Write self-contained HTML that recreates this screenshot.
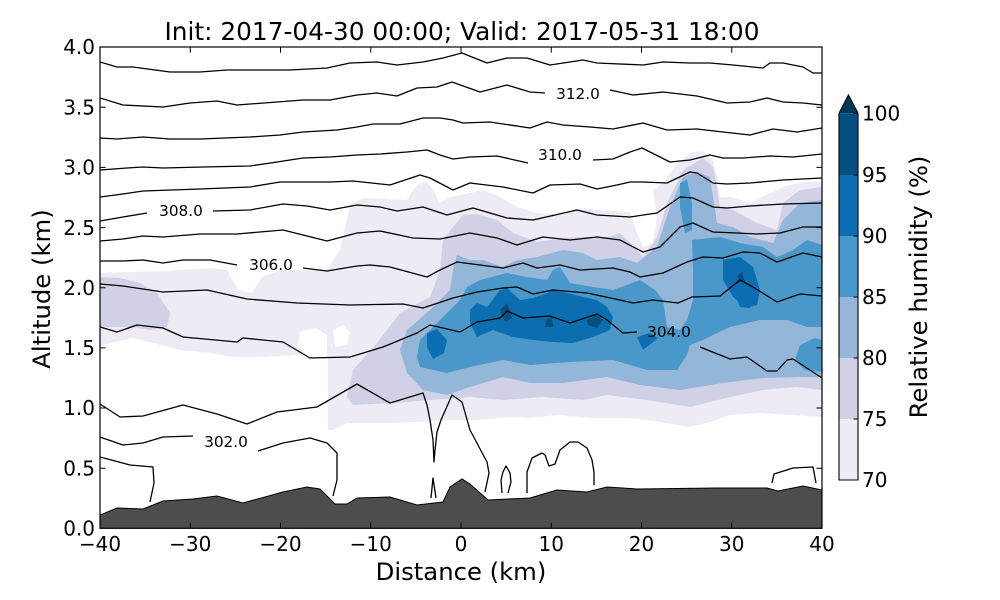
<!DOCTYPE html>
<html><head><meta charset="utf-8"><style>
html,body{margin:0;padding:0;background:#fff;}
svg{display:block;font-family:"DejaVu Sans","Liberation Sans",sans-serif;}
</style></head><body>
<svg width="1000" height="600" viewBox="0 0 1000 600" xmlns="http://www.w3.org/2000/svg">
<defs><clipPath id="c"><rect x="100" y="47" width="722" height="481.3"/></clipPath></defs>
<rect width="1000" height="600" fill="#fff"/>
<g clip-path="url(#c)">
<!-- 70 -->
<polygon fill="#efebf4" points="100,273 167,271 210,268 227,270 238,290 252,293 262,277 280,270 327,270 340,250 350,205 363,198 407,200 413,190 420,183 427,182 433,190 440,203 450,197 470,193 483,190 500,197 517,207 537,213 563,215 583,208 597,210 630,212 637,233 643,247 653,243 657,217 653,190 663,183 677,163 690,153 703,151 713,160 717,177 720,197 733,197 750,203 770,193 783,187 803,182 822,182 822,417 790,415 760,413 730,415 710,422 690,427 660,422 630,418 590,418 557,415 530,418 510,417 480,420 447,420 397,423 347,423 333,430 328,430 328,360 327,357 300,355 260,357 233,357 210,353 180,350 153,343 133,338 110,343 100,347"/>
<polygon fill="#fff" points="300,332 315,328 327,335 327,357 305,355 298,345"/>
<polygon fill="#fff" points="333,330 343,325 350,333 347,345 335,347"/>
<!-- 75 -->
<polygon fill="#d0d1e6" points="100,277 120,278 140,283 157,293 170,313 167,327 150,330 133,327 117,327 100,327"/>
<polygon fill="#d0d1e6" points="443,240 453,227 463,215 477,214 497,220 513,233 537,242 563,238 587,237 607,237 620,233 637,250 643,257 657,237 667,203 683,170 703,158 713,167 717,187 720,207 733,210 757,223 777,230 783,203 800,190 822,187 822,390 797,387 763,390 730,397 690,407 647,400 607,395 583,400 543,397 503,400 470,397 430,400 397,403 353,405 347,397 353,370 377,343 400,313 430,297 440,270"/>
<!-- 80 -->
<polygon fill="#94b6d9" points="450,290 453,270 457,255 470,260 483,260 503,267 517,260 537,257 563,250 583,253 597,260 620,257 637,263 657,247 670,207 683,177 697,172 710,177 713,197 717,223 733,227 750,237 773,243 783,220 800,203 822,200 822,377 803,377 763,378 723,383 680,390 640,385 607,377 563,383 530,383 503,377 470,387 447,395 423,390 407,373 400,350 407,330 430,310"/>
<!-- 85 -->
<polygon fill="#4a98c9" points="460,300 467,287 480,280 507,273 527,277 547,280 553,270 560,267 570,283 593,287 613,290 640,280 655,290 663,300 667,327 680,330 687,320 693,300 693,270 692,240 720,237 740,243 763,247 777,257 793,250 807,240 822,245 822,327 807,327 787,320 760,320 730,327 713,335 703,340 690,345 687,355 677,370 647,370 613,360 570,362 530,365 503,360 470,367 447,373 420,367 417,357 420,340 433,327 447,313"/>
<polygon fill="#4a98c9" points="680,183 687,180 692,203 692,230 685,233 680,207"/>
<polygon fill="#4a98c9" points="800,345 815,338 822,340 822,372 805,370 795,360"/>
<!-- 90 -->
<polygon fill="#0b6eb0" points="470,310 477,303 487,307 500,290 507,288 520,300 533,298 547,293 553,290 567,293 583,297 597,300 607,307 613,317 610,330 593,337 573,343 553,342 533,340 513,337 493,330 477,337 470,323"/>
<polygon fill="#0b6eb0" points="427,333 437,329 447,340 444,353 433,359 427,347"/>
<polygon fill="#0b6eb0" points="637,337 650,333 658,338 643,350"/>
<polygon fill="#0b6eb0" points="723,260 740,257 753,267 760,290 757,305 747,308 733,297 723,280"/>
<polygon fill="#0b6eb0" points="737,300 757,300 750,308 740,307"/>
<!-- 95 -->
<polygon fill="#064f80" points="500,310 507,303 512,318 505,322"/>
<polygon fill="#064f80" points="547,318 552,317 553,327 545,327"/>
<polygon fill="#064f80" points="587,320 597,315 603,320 597,328 588,325"/>
<polygon fill="#064f80" points="738,275 742,272 745,282 738,282"/>
<!-- contours -->
<g fill="none" stroke="#000" stroke-width="1.3" stroke-linejoin="round">
<polyline points="100,62 117,67 133,67 170,72 200,72 227,70 290,70 327,68 350,63 377,62 397,65 423,62 443,58 462,53 487,63 507,58 527,58 550,65 583,60 597,63 643,65 663,62 690,63 710,63 733,65 763,68 770,63 783,63 803,67 813,73 822,73"/>
<polyline points="100,98 123,105 163,107 190,103 217,101 237,105 277,102 303,100 330,100 357,95 377,93 397,96 417,88 437,87 452,82 480,92 507,85 530,92 545,93"/>
<polyline points="610,90 633,95 663,92 697,96 727,103 750,102 767,98 783,102 803,103 822,105"/>
<polyline points="100,138 117,139 143,137 170,139 200,139 250,137 280,135 303,132 337,130 357,127 373,124 400,124 423,118 440,118 453,120 463,123 490,122 530,128 547,122 563,125 590,127 613,129 643,123 667,130 697,129 723,132 750,135 773,129 797,132 822,128"/>
<polyline points="100,170 127,168 143,167 163,168 203,167 250,166 277,162 303,158 330,157 357,155 380,154 407,152 427,150 440,155 453,159 470,157 497,156 528,163"/>
<polyline points="593,160 613,159 630,152 642,148 670,162 690,160 710,155 723,158 743,158 770,156 793,157 822,154"/>
<polyline points="100,197 123,194 143,191 200,189 250,187 280,182 310,182 330,182 353,181 390,185 420,175 430,178 453,190 470,183 503,187 533,193 550,185 580,184 597,189 617,185 630,182 643,182 667,183 690,172 697,173 713,183 727,184 750,183 783,180 822,178"/>
<polyline points="100,221 123,217 147,213"/>
<polyline points="213,211 250,210 283,204 307,206 330,210 357,205 380,207 397,211 423,207 447,215 473,208 507,218 533,220 577,210 597,215 630,217 657,213 680,197 693,198 713,207 727,208 750,206 783,204 822,203"/>
<polyline points="100,241 123,239 143,236 163,237 200,234 237,234 283,230 327,241 357,233 380,231 413,238 440,239 470,233 497,238 517,245 543,237 570,240 597,237 620,240 643,252 660,247 680,227 693,223 713,232 737,233 757,234 780,233 803,227 822,227"/>
<polyline points="100,261 123,261 143,260 163,263 183,260 210,260 237,265"/>
<polyline points="303,268 327,271 357,266 370,265 390,267 427,277 440,270 457,262 480,265 503,268 523,263 537,268 560,265 580,270 613,268 630,272 640,277 663,273 687,262 703,257 723,258 743,252 760,253 777,262 803,253 822,257"/>
<polyline points="100,284 123,286 163,292 207,290 247,299 297,303 350,305 403,304 423,308 453,298 477,292 503,288 517,287 533,294 553,290 587,293 620,300 633,303 653,300 678,303 692,297 720,296 740,280 753,287 777,302 800,294 822,296"/>
<polyline points="100,327 117,332 137,325 163,328 183,337 237,342 243,338 283,342 310,358 350,357 383,347 400,340 417,333 430,325 460,332 477,322 500,318 507,311 523,318 550,316 570,323 597,314 607,320 623,333 637,332"/>
<polyline points="700,347 730,359 747,357 767,371 777,371 787,360 793,359 822,378"/>
<polyline points="100,404 120,417 143,416 183,405 217,414 247,424 277,412 317,407 357,384 390,403 423,393 427,405 430,420 433,440 434,462 435,450 437,432 441,420 452,395 462,402 470,430 487,462 489,473 485,492"/>
<polyline points="431,498 433,478 436,498"/>
<polyline points="502,493 501,480 503,472 506,466 510,473 511,482 508,493"/>
<polyline points="527,493 527,472 532,458 542,453 545,455 549,466 555,464 560,450 570,442 578,442 587,448 592,460 594,472 594,485"/>
<polyline points="772,483 774,474 793,468 813,467 816,483"/>
<polyline points="100,437 123,445 143,443 163,437 193,436"/>
<polyline points="258,451 283,443 310,438 327,443 337,453 337,480 333,496"/>
<polyline points="100,457 130,465 153,467 154,483 150,502"/>
</g>
<!-- terrain -->
<polygon fill="#4d4d4d" stroke="#000" stroke-width="1" points="100,515 117,508 143,509 163,501 193,499 217,496 243,503 283,492 307,487 320,489 335,504 347,504 357,498 390,497 417,505 443,502 450,487 462,479 470,484 488,500 530,498 557,490 587,492 607,487 637,489 717,488 767,488 778,491 803,486 822,490 822,530 100,530"/>
</g>
<!-- contour labels -->
<g font-size="15.3" fill="#000" text-anchor="middle">
<text x="578" y="99">312.0</text>
<text x="560" y="160">310.0</text>
<text x="181" y="216">308.0</text>
<text x="271" y="270">306.0</text>
<text x="669" y="337">304.0</text>
<text x="226" y="447">302.0</text>
</g>
<!-- axes frame -->
<rect x="100" y="47" width="722" height="481.3" fill="none" stroke="#000" stroke-width="1.2"/>
<g stroke="#000" stroke-width="1">
<path d="M190.25,528.3v-5.6M280.5,528.3v-5.6M370.75,528.3v-5.6M461,528.3v-5.6M551.25,528.3v-5.6M641.5,528.3v-5.6M731.75,528.3v-5.6M190.25,47v5.6M280.5,47v5.6M370.75,47v5.6M461,47v5.6M551.25,47v5.6M641.5,47v5.6M731.75,47v5.6"/>
<path d="M100,468.2h5.6M100,408h5.6M100,347.9h5.6M100,287.7h5.6M100,227.6h5.6M100,167.4h5.6M100,107.3h5.6M822,468.2h-5.6M822,408h-5.6M822,347.9h-5.6M822,287.7h-5.6M822,227.6h-5.6M822,167.4h-5.6M822,107.3h-5.6"/>
</g>
<g font-size="20" fill="#000" text-anchor="middle">
<text x="100" y="551">−40</text>
<text x="190.25" y="551">−30</text>
<text x="280.5" y="551">−20</text>
<text x="370.75" y="551">−10</text>
<text x="461" y="551">0</text>
<text x="551.25" y="551">10</text>
<text x="641.5" y="551">20</text>
<text x="731.75" y="551">30</text>
<text x="822" y="551">40</text>
</g>
<g font-size="20" fill="#000" text-anchor="end">
<text x="95" y="535.5">0.0</text>
<text x="95" y="475.4">0.5</text>
<text x="95" y="415.2">1.0</text>
<text x="95" y="355.1">1.5</text>
<text x="95" y="294.9">2.0</text>
<text x="95" y="234.8">2.5</text>
<text x="95" y="174.6">3.0</text>
<text x="95" y="114.5">3.5</text>
<text x="95" y="54.2">4.0</text>
</g>
<text x="462" y="40" font-size="24.8" text-anchor="middle">Init: 2017-04-30 00:00; Valid: 2017-05-31 18:00</text>
<text x="461" y="580" font-size="24.3" text-anchor="middle">Distance (km)</text>
<text transform="translate(50,289) rotate(-90)" font-size="24.3" text-anchor="middle">Altitude (km)</text>
<!-- colorbar -->
<rect x="839" y="419" width="19" height="61" fill="#efebf4"/>
<rect x="839" y="358" width="19" height="61" fill="#d0d1e6"/>
<rect x="839" y="297" width="19" height="61" fill="#94b6d9"/>
<rect x="839" y="236" width="19" height="61" fill="#4a98c9"/>
<rect x="839" y="175" width="19" height="61" fill="#0b6eb0"/>
<rect x="839" y="113.3" width="19" height="61.7" fill="#064f80"/>
<polygon points="839,113.3 848.5,95 858,113.3" fill="#023858"/>
<polygon points="839,480 839,113.3 848.5,95 858,113.3 858,480" fill="none" stroke="#000" stroke-width="1.1"/>
<g stroke="#000" stroke-width="1">
<path d="M858,419h-4.5M858,358h-4.5M858,297h-4.5M858,236h-4.5M858,175h-4.5M858,113.3h-4.5"/>
</g>
<g font-size="20" fill="#000">
<text x="862" y="487">70</text>
<text x="862" y="426">75</text>
<text x="862" y="365">80</text>
<text x="862" y="304">85</text>
<text x="862" y="243">90</text>
<text x="862" y="182">95</text>
<text x="862" y="120.5">100</text>
</g>
<text transform="translate(927,287) rotate(-90)" font-size="24.3" text-anchor="middle">Relative humidity (%)</text>
</svg>
</body></html>
